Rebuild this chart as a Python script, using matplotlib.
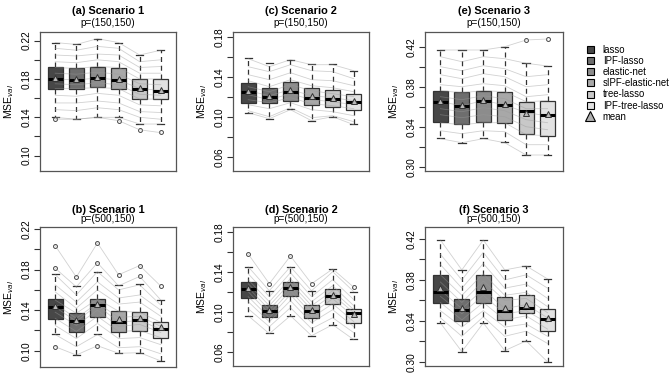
import matplotlib
matplotlib.use("Agg")
import matplotlib.pyplot as plt
from matplotlib.patches import Patch
from matplotlib.lines import Line2D

plt.rcParams['font.family'] = ['Liberation Sans', 'DejaVu Sans']

methods = ["lasso", "IPF-lasso", "elastic-net", "sIPF-elastic-net", "tree-lasso", "IPF-tree-lasso"]
box_colors = ["#474747", "#6e6e6e", "#8c8c8c", "#a8a8a8", "#c8c8c8", "#e2e2e2"]

# box stats per method: [whislo, q1, med, q3, whishi]
a_box = [[0.140, 0.170, 0.180, 0.192, 0.218],
         [0.138, 0.1696, 0.179, 0.191, 0.217],
         [0.140, 0.1713, 0.181, 0.1929, 0.222],
         [0.140, 0.1696, 0.179, 0.1918, 0.218],
         [0.1327, 0.159, 0.170, 0.1797, 0.205],
         [0.1327, 0.1588, 0.1678, 0.180, 0.2103]]
a_mean = [0.181, 0.180, 0.182, 0.180, 0.171, 0.169]
a_fliers = [[0.138], [], [], [0.1365], [0.1268], [0.1244]]
a_runs = [[0.218, 0.216, 0.222, 0.218, 0.205, 0.210],
          [0.212, 0.210, 0.214, 0.212, 0.198, 0.200],
          [0.205, 0.204, 0.206, 0.205, 0.192, 0.193],
          [0.198, 0.197, 0.200, 0.198, 0.186, 0.186],
          [0.192, 0.191, 0.193, 0.192, 0.180, 0.180],
          [0.186, 0.185, 0.187, 0.185, 0.175, 0.174],
          [0.180, 0.179, 0.181, 0.179, 0.170, 0.168],
          [0.175, 0.174, 0.176, 0.174, 0.164, 0.163],
          [0.170, 0.170, 0.171, 0.170, 0.159, 0.159],
          [0.163, 0.162, 0.165, 0.163, 0.153, 0.152],
          [0.155, 0.155, 0.157, 0.155, 0.146, 0.145],
          [0.148, 0.147, 0.150, 0.148, 0.140, 0.138],
          [0.140, 0.138, 0.140, 0.140, 0.133, 0.133],
          [0.138, 0.138, 0.140, 0.1365, 0.127, 0.124]]

b_box = [[0.1161, 0.1318, 0.1432, 0.1507, 0.1752],
         [0.0958, 0.1187, 0.1295, 0.1377, 0.1635],
         [0.1161, 0.1334, 0.1448, 0.1507, 0.1775],
         [0.0975, 0.1187, 0.1285, 0.139, 0.1644],
         [0.0981, 0.1194, 0.1308, 0.1383, 0.1654],
         [0.090, 0.1128, 0.121, 0.1285, 0.1497]]
b_mean = [0.144, 0.130, 0.146, 0.131, 0.132, 0.123]
b_fliers = [[0.2036, 0.1814, 0.104], [0.1726], [0.2063, 0.1867, 0.105],
            [0.1749], [0.184, 0.1733], [0.1637]]
b_runs = [[0.2036, 0.1726, 0.2063, 0.1749, 0.184, 0.1637],
          [0.1814, 0.163, 0.1867, 0.164, 0.1733, 0.150],
          [0.175, 0.155, 0.178, 0.160, 0.165, 0.145],
          [0.165, 0.148, 0.168, 0.152, 0.155, 0.140],
          [0.158, 0.142, 0.160, 0.146, 0.148, 0.134],
          [0.150, 0.137, 0.151, 0.139, 0.138, 0.128],
          [0.146, 0.132, 0.147, 0.133, 0.134, 0.124],
          [0.143, 0.129, 0.145, 0.128, 0.130, 0.121],
          [0.138, 0.125, 0.140, 0.124, 0.126, 0.118],
          [0.132, 0.119, 0.134, 0.119, 0.120, 0.113],
          [0.125, 0.112, 0.127, 0.112, 0.113, 0.106],
          [0.116, 0.104, 0.116, 0.103, 0.104, 0.097],
          [0.104, 0.0958, 0.105, 0.0975, 0.0981, 0.090]]

c_box = [[0.104, 0.114, 0.1244, 0.1334, 0.1584],
         [0.0977, 0.1134, 0.1194, 0.129, 0.1534],
         [0.1074, 0.116, 0.125, 0.1344, 0.1567],
         [0.0957, 0.1117, 0.119, 0.129, 0.1524],
         [0.100, 0.1094, 0.1177, 0.1267, 0.1524],
         [0.0924, 0.1067, 0.115, 0.1227, 0.1457]]
c_mean = [0.126, 0.1205, 0.1267, 0.121, 0.119, 0.1157]
c_fliers = [[], [], [], [], [], []]
c_runs = [[0.158, 0.150, 0.157, 0.152, 0.152, 0.146],
          [0.150, 0.145, 0.152, 0.146, 0.145, 0.138],
          [0.142, 0.137, 0.144, 0.137, 0.136, 0.131],
          [0.136, 0.130, 0.137, 0.131, 0.129, 0.125],
          [0.130, 0.125, 0.132, 0.126, 0.123, 0.120],
          [0.126, 0.121, 0.127, 0.121, 0.119, 0.116],
          [0.122, 0.117, 0.123, 0.117, 0.115, 0.112],
          [0.117, 0.114, 0.119, 0.113, 0.111, 0.108],
          [0.112, 0.108, 0.114, 0.107, 0.105, 0.101],
          [0.106, 0.100, 0.109, 0.099, 0.101, 0.095],
          [0.104, 0.098, 0.107, 0.096, 0.100, 0.092]]

d_box = [[0.096, 0.114, 0.1227, 0.1294, 0.145],
         [0.0784, 0.0944, 0.1007, 0.1067, 0.121],
         [0.096, 0.116, 0.124, 0.130, 0.145],
         [0.0757, 0.094, 0.101, 0.1067, 0.1207],
         [0.0867, 0.1077, 0.1157, 0.1224, 0.1427],
         [0.0724, 0.089, 0.0984, 0.1024, 0.120]]
d_mean = [0.124, 0.102, 0.125, 0.102, 0.117, 0.0977]
d_fliers = [[0.1577], [0.128], [0.1557], [0.128], [], [0.1244]]
d_runs = [[0.1577, 0.128, 0.1557, 0.128, 0.1427, 0.1244],
          [0.145, 0.121, 0.145, 0.121, 0.140, 0.120],
          [0.138, 0.115, 0.139, 0.115, 0.132, 0.112],
          [0.132, 0.110, 0.133, 0.110, 0.126, 0.106],
          [0.128, 0.106, 0.129, 0.106, 0.121, 0.102],
          [0.124, 0.102, 0.125, 0.102, 0.117, 0.099],
          [0.120, 0.098, 0.121, 0.098, 0.113, 0.095],
          [0.115, 0.094, 0.117, 0.094, 0.108, 0.090],
          [0.110, 0.090, 0.111, 0.089, 0.102, 0.085],
          [0.103, 0.085, 0.104, 0.083, 0.094, 0.079],
          [0.096, 0.078, 0.096, 0.076, 0.087, 0.072]]

e_box = [[0.3284, 0.3444, 0.3644, 0.376, 0.4167],
         [0.324, 0.3424, 0.3607, 0.3744, 0.4167],
         [0.3284, 0.3444, 0.3657, 0.376, 0.4167],
         [0.3244, 0.344, 0.3617, 0.375, 0.420],
         [0.3117, 0.3324, 0.3557, 0.365, 0.4034],
         [0.3117, 0.331, 0.3517, 0.366, 0.4007]]
e_mean = [0.366, 0.362, 0.367, 0.363, 0.354, 0.353]
e_fliers = [[], [], [], [], [0.4267], [0.4277]]
e_runs = [[0.4167, 0.4167, 0.4167, 0.420, 0.4267, 0.4277],
          [0.410, 0.405, 0.410, 0.408, 0.4034, 0.4007],
          [0.400, 0.396, 0.401, 0.398, 0.390, 0.392],
          [0.392, 0.388, 0.393, 0.390, 0.380, 0.382],
          [0.382, 0.380, 0.383, 0.381, 0.370, 0.372],
          [0.376, 0.374, 0.376, 0.375, 0.365, 0.366],
          [0.370, 0.367, 0.371, 0.368, 0.358, 0.358],
          [0.365, 0.361, 0.366, 0.362, 0.354, 0.351],
          [0.358, 0.355, 0.359, 0.356, 0.347, 0.344],
          [0.352, 0.349, 0.352, 0.350, 0.340, 0.337],
          [0.344, 0.342, 0.344, 0.344, 0.332, 0.331],
          [0.336, 0.333, 0.336, 0.335, 0.322, 0.322],
          [0.328, 0.324, 0.328, 0.324, 0.3117, 0.3117]]

f_box = [[0.3384, 0.3573, 0.3686, 0.3849, 0.419],
         [0.310, 0.3403, 0.3507, 0.3615, 0.3898],
         [0.3384, 0.3573, 0.3686, 0.3849, 0.419],
         [0.311, 0.341, 0.3498, 0.3631, 0.3898],
         [0.3205, 0.3475, 0.353, 0.3654, 0.3937],
         [0.300, 0.3305, 0.3417, 0.3517, 0.381]]
f_mean = [0.372, 0.353, 0.373, 0.353, 0.356, 0.343]
f_fliers = [[], [], [], [], [], []]
f_runs = [[0.419, 0.3898, 0.419, 0.3898, 0.3937, 0.381],
          [0.405, 0.380, 0.407, 0.380, 0.385, 0.372],
          [0.395, 0.372, 0.396, 0.372, 0.376, 0.362],
          [0.385, 0.365, 0.386, 0.365, 0.368, 0.354],
          [0.378, 0.358, 0.379, 0.360, 0.362, 0.348],
          [0.370, 0.352, 0.371, 0.352, 0.356, 0.343],
          [0.364, 0.347, 0.365, 0.347, 0.350, 0.338],
          [0.358, 0.341, 0.358, 0.341, 0.345, 0.332],
          [0.350, 0.334, 0.350, 0.334, 0.337, 0.325],
          [0.343, 0.325, 0.344, 0.325, 0.330, 0.318],
          [0.338, 0.310, 0.338, 0.311, 0.3205, 0.300]]

W, H = 672, 374


def draw_panel(rect, box, means, fliers, runs, ylim, ticks, labels, title, sub, title_gap):
    x0, y0, x1, y1 = rect
    ax = fig.add_axes([x0 / W, 1 - y1 / H, (x1 - x0) / W, (y1 - y0) / H])
    pos = list(range(1, 7))

    stats = []
    for b, m, fl in zip(box, means, fliers):
        stats.append(dict(whislo=b[0], q1=b[1], med=b[2], q3=b[3], whishi=b[4],
                          mean=m, fliers=fl))
    art = ax.bxp(stats, positions=pos, widths=0.7, patch_artist=True, showmeans=True,
                 boxprops=dict(edgecolor="#333333", linewidth=0.9),
                 whiskerprops=dict(color="#333333", linestyle=(0, (4, 3)), linewidth=0.9),
                 capprops=dict(color="#333333", linewidth=0.9),
                 medianprops=dict(color="black", linewidth=2.2),
                 meanprops=dict(marker="^", markerfacecolor="#b8b8b8",
                                markeredgecolor="#333333", markersize=5,
                                markeredgewidth=0.7),
                 flierprops=dict(marker="o", markerfacecolor="none",
                                 markeredgecolor="#444444", markersize=2.8,
                                 markeredgewidth=0.7))
    for patch, c in zip(art["boxes"], box_colors):
        patch.set_facecolor(c)
        patch.set_zorder(2)

    # individual runs on top of the boxes
    for r in runs:
        ax.plot(pos, r, color="#9a9a9a", alpha=0.45, linewidth=0.6, zorder=3)

    for med in art["medians"]:
        med.set_zorder(4)
    for mn in art["means"]:
        mn.set_zorder(5)

    ax.set_xlim(0.28, 6.72)
    ax.set_ylim(*ylim)
    ax.set_xticks([])
    ax.set_yticks(ticks)
    ax.set_yticklabels([f"{t:.2f}" if t in labels else "" for t in ticks],
                       rotation=90, va="center", fontsize=7.3)
    ax.tick_params(axis="y", length=4, width=0.8, color="#333333", pad=2)
    for s in ax.spines.values():
        s.set_color("#555555")
        s.set_linewidth(0.9)
    ax.set_ylabel("MSE$_{val}$", fontsize=7.5, labelpad=4)
    cx = (x0 + x1) / 2 / W
    fig.text(cx, 1 - (y0 - title_gap[0]) / H, title, ha="center", va="center",
             fontsize=7.9, fontweight="bold")
    fig.text(cx, 1 - (y0 - title_gap[1]) / H, sub, ha="center", va="center", fontsize=7.2)
    return ax


fig = plt.figure(figsize=(6.72, 3.74), dpi=100)

s1_ticks = [0.10, 0.12, 0.14, 0.16, 0.18, 0.20, 0.22]
s1_lab = [0.10, 0.14, 0.18, 0.22]
s2_ticks = [0.06, 0.08, 0.10, 0.12, 0.14, 0.16, 0.18]
s2_lab = [0.06, 0.10, 0.14, 0.18]
s3_ticks = [0.30, 0.32, 0.34, 0.36, 0.38, 0.40, 0.42]
s3_lab = [0.30, 0.34, 0.38, 0.42]

draw_panel((40, 32, 176, 171), a_box, a_mean, a_fliers, a_runs, (0.084, 0.229),
           s1_ticks, s1_lab, "(a) Scenario 1", "p=(150,150)", (21.5, 8.5))
draw_panel((40, 227, 176, 367), b_box, b_mean, b_fliers, b_runs, (0.084, 0.222),
           s1_ticks, s1_lab, "(b) Scenario 1", "p=(500,150)", (17, 7.5))
draw_panel((233, 32, 369, 171), c_box, c_mean, c_fliers, c_runs, (0.0457, 0.1847),
           s2_ticks, s2_lab, "(c) Scenario 2", "p=(150,150)", (21.5, 8.5))
draw_panel((233, 227, 369, 366), d_box, d_mean, d_fliers, d_runs, (0.0457, 0.1847),
           s2_ticks, s2_lab, "(d) Scenario 2", "p=(500,150)", (17, 7.5))
draw_panel((425, 32, 563, 171), e_box, e_mean, e_fliers, e_runs, (0.2957, 0.4347),
           s3_ticks, s3_lab, "(e) Scenario 3", "p=(150,150)", (21.5, 8.5))
draw_panel((425, 227, 563, 366), f_box, f_mean, f_fliers, f_runs, (0.296, 0.4317),
           s3_ticks, s3_lab, "(f) Scenario 3", "p=(500,150)", (17, 7.5))

handles = [Patch(facecolor=c, edgecolor="black", linewidth=0.8) for c in box_colors]
handles.append(Line2D([], [], marker="^", linestyle="none", markersize=7,
                      markerfacecolor="#b0b0b0", markeredgecolor="black",
                      markeredgewidth=0.8))
fig.legend(handles, methods + ["mean"], loc="upper left",
           bbox_to_anchor=(583 / W, 1 - 41 / H), frameon=False, fontsize=6.9,
           handlelength=0.75, handleheight=0.75, handletextpad=0.9, labelspacing=0.12,
           borderaxespad=0)

fig.savefig("out.png", dpi=100)
